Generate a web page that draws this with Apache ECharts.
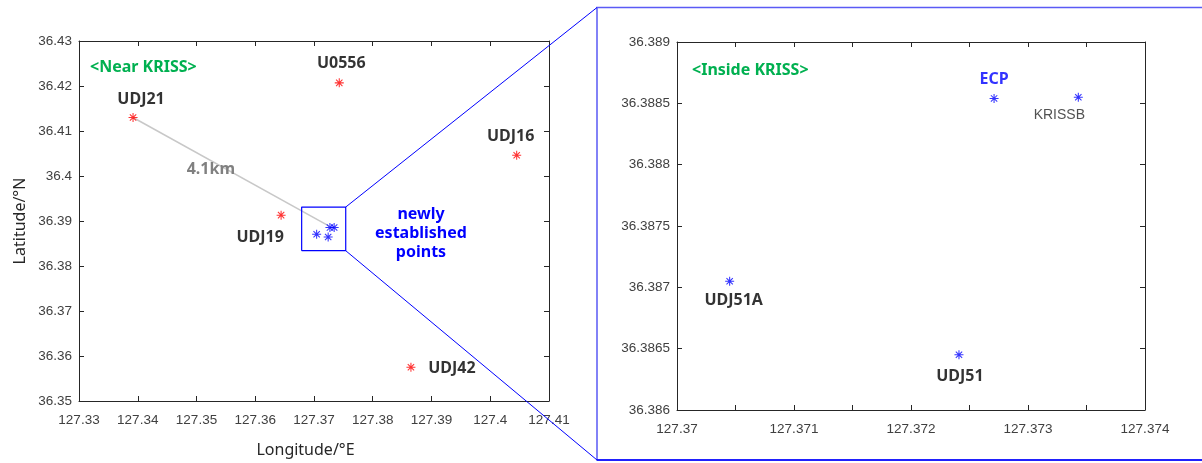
<!DOCTYPE html>
<html>
<head>
<meta charset="utf-8">
<script src="https://cdn.jsdelivr.net/npm/echarts@6/dist/echarts.min.js"></script>
<style>
html,body{margin:0;padding:0;background:#fff;}
#c{width:1202px;height:463px;}
</style>
</head>
<body>
<div id="c"></div>
<script>
// ---------- DATA ----------
var nearNames = ['UDJ21', 'U0556', 'UDJ16', 'UDJ19', 'UDJ42'];
var nearLon   = [127.3392, 127.3743, 127.4045, 127.3644, 127.3865];
var nearLat   = [36.4130, 36.4207, 36.4046, 36.3913, 36.3575];

var insideNames = ['ECP', 'KRISSB', 'UDJ51A', 'UDJ51'];
var insideLon   = [127.37271, 127.37343, 127.37045, 127.37241];
var insideLat   = [36.38854, 36.38855, 36.38705, 36.38645];

// distance line UDJ21 -> ECP
var distLineLon = [127.3392, 127.3725];
var distLineLat = [36.4130, 36.3889];
var distLabel = '4.1km';

// zoom box on left map
var boxLon = [127.3679, 127.3754];
var boxLat = [36.3834, 36.3931];

// axes ranges / ticks
var leftX  = {min: 127.33, max: 127.41, step: 0.01};
var leftY  = {min: 36.35,  max: 36.43,  step: 0.01};
var rightX = {min: 127.370, max: 127.374, step: 0.0005, labelStep: 0.001};
var rightY = {min: 36.386, max: 36.389, step: 0.0005};

var xName = 'Longitude/°E';
var yName = 'Latitude/°N';
var titleLeft = '<Near KRISS>';
var titleRight = '<Inside KRISS>';
var newPointsText = 'newly\nestablished\npoints';

// ---------- STYLE ----------
var AX = '#262626';
var TICKFONT = '"Liberation Sans", Arial, sans-serif';
var LBLFONT = '"Noto Sans", "Open Sans", sans-serif';
var STAR = 'path://M0 5.3H12V6.7H0Z M5.3 0H6.7V12H5.3Z M2.255 1.265L10.735 9.745L9.745 10.735L1.265 2.255Z M10.735 2.255L2.255 10.735L1.265 9.745L9.745 1.265Z';

var nearOffsets = {UDJ21:[8,-18], U0556:[2,-19], UDJ16:[-6,-19], UDJ19:[-21,22], UDJ42:[41,1]};
var insideOffsets = {ECP:[0,-19], KRISSB:[-19,18], UDJ51A:[4,19], UDJ51:[1,22]};

var grids = [
  {left: 79, top: 41, width: 470, height: 368},
  {left: 677, top: 42, width: 468, height: 368}
];

function fmt(d){ return function(v){ return String(+(+v).toFixed(d)); }; }

function mkAxis(r, gi, pos, showLabel, fmtFn){
  return {
    type: 'value', gridIndex: gi, position: pos,
    min: r.min, max: r.max, interval: r.step,
    splitLine: {show: false},
    axisLine: {show: true, onZero: false, lineStyle: {color: AX, width: 1}},
    axisTick: {show: true, inside: true, length: 5, lineStyle: {color: AX}},
    axisLabel: {show: showLabel, color: '#404040', fontSize: 13.5, fontFamily: TICKFONT, formatter: fmtFn, margin: 8, showMinLabel: true, showMaxLabel: true}
  };
}

var xAxes = [
  mkAxis(leftX, 0, 'bottom', true, fmt(2)),
  mkAxis(rightX, 1, 'bottom', true, function(v){
    var k = Math.round((v - rightX.min) / rightX.step);
    return (k % Math.round(rightX.labelStep / rightX.step) === 0) ? String(+(+v).toFixed(3)) : '';
  }),
  mkAxis(leftX, 0, 'top', false),
  mkAxis(rightX, 1, 'top', false)
];
xAxes[0].axisLabel.margin = 12;
xAxes[1].axisLabel.margin = 12;
xAxes[0].name = xName;
xAxes[0].nameLocation = 'middle';
xAxes[0].nameGap = 41;
xAxes[0].nameTextStyle = {color: AX, fontSize: 16, fontFamily: LBLFONT, padding: [0, 17, 0, 0]};

var yAxes = [
  mkAxis(leftY, 0, 'left', true, fmt(2)),
  mkAxis(rightY, 1, 'left', true, fmt(4)),
  mkAxis(leftY, 0, 'right', false),
  mkAxis(rightY, 1, 'right', false)
];
yAxes[0].axisLabel.margin = 7;
yAxes[1].axisLabel.margin = 7;
yAxes[0].name = yName;
yAxes[0].nameLocation = 'middle';
yAxes[0].nameGap = 51;
yAxes[0].nameTextStyle = {color: AX, fontSize: 16, fontFamily: LBLFONT};

function ptLabel(off, color, bold){
  return {show: true, position: 'inside', offset: off, formatter: '{b}',
          color: color, fontSize: 16, fontWeight: bold ? 'bold' : 'normal', fontFamily: LBLFONT};
}

var nearData = nearNames.map(function(n, i){
  return {name: n, value: [nearLon[i], nearLat[i]], label: ptLabel(nearOffsets[n], '#000', true)};
});
var insideDataLeft = insideNames.map(function(n, i){ return {name: n, value: [insideLon[i], insideLat[i]]}; });
var insideDataRight = insideNames.map(function(n, i){
  var lab;
  if (n === 'ECP') lab = ptLabel(insideOffsets[n], '#0000ff', true);
  else if (n === 'KRISSB') { lab = ptLabel(insideOffsets[n], '#262626', false); lab.fontFamily = TICKFONT; lab.fontSize = 14; }
  else lab = ptLabel(insideOffsets[n], '#000', true);
  return {name: n, value: [insideLon[i], insideLat[i]], label: lab};
});

var boxData = [
  [boxLon[0], boxLat[0]], [boxLon[1], boxLat[0]], [boxLon[1], boxLat[1]], [boxLon[0], boxLat[1]], [boxLon[0], boxLat[0]]
];

var chart = echarts.init(document.getElementById('c'), null, {renderer: 'canvas'});
chart.setOption({
  animation: false,
  backgroundColor: '#fff',
  grid: grids,
  xAxis: xAxes,
  yAxis: yAxes,
  series: [
    {type: 'line', xAxisIndex: 0, yAxisIndex: 0, symbol: 'none', silent: true, z: 1,
     data: distLineLon.map(function(x, i){ return [x, distLineLat[i]]; }),
     lineStyle: {color: '#c8c8c8', width: 1.5}},
    {type: 'line', xAxisIndex: 0, yAxisIndex: 0, symbol: 'none', silent: true, z: 2,
     data: boxData, lineStyle: {color: '#0000ff', width: 1.2}},
    {type: 'scatter', xAxisIndex: 0, yAxisIndex: 0, symbol: STAR, symbolSize: 9, z: 3,
     itemStyle: {color: '#ff0000'}, data: nearData},
    {type: 'scatter', xAxisIndex: 0, yAxisIndex: 0, symbol: STAR, symbolSize: 9, z: 3,
     itemStyle: {color: '#0000ff'}, data: insideDataLeft},
    {type: 'scatter', xAxisIndex: 1, yAxisIndex: 1, symbol: STAR, symbolSize: 9, z: 3,
     itemStyle: {color: '#0000ff'}, data: insideDataRight}
  ]
});

// ---------- decorations (zoom frame and connectors) ----------
var tr = chart.convertToPixel({xAxisIndex: 0, yAxisIndex: 0}, [boxLon[1], boxLat[1]]);
var br = chart.convertToPixel({xAxisIndex: 0, yAxisIndex: 0}, [boxLon[1], boxLat[0]]);
var distMid = chart.convertToPixel({xAxisIndex: 0, yAxisIndex: 0},
  [(distLineLon[0] + distLineLon[1]) / 2, (distLineLat[0] + distLineLat[1]) / 2]);
var frame = {x0: 597, y0: 7.5, x1: 1204, y1: 460};

chart.setOption({
  graphic: [
    {type: 'rect', silent: true, z: 10, shape: {x: frame.x0, y: frame.y0, width: frame.x1 - frame.x0, height: frame.y1 - frame.y0},
     style: {fill: 'none', stroke: '#5a5af5', lineWidth: 1.5}},
    {type: 'line', silent: true, z: 11, shape: {x1: frame.x0, y1: frame.y1, x2: frame.x1, y2: frame.y1},
     style: {stroke: '#0000ff', lineWidth: 1.5}},
    {type: 'line', silent: true, z: 11, shape: {x1: tr[0], y1: tr[1], x2: frame.x0, y2: frame.y0},
     style: {stroke: '#0000ff', lineWidth: 1}},
    {type: 'line', silent: true, z: 11, shape: {x1: br[0], y1: br[1], x2: frame.x0, y2: frame.y1},
     style: {stroke: '#0000ff', lineWidth: 1}},
    {type: 'text', silent: true, z: 12, style: {text: titleLeft, x: 90, y: 67, fill: '#00b050',
     font: 'bold 16px "Noto Sans"', align: 'left', verticalAlign: 'middle'}},
    {type: 'text', silent: true, z: 12, style: {text: titleRight, x: 692, y: 70, fill: '#00b050',
     font: 'bold 16px "Noto Sans"', align: 'left', verticalAlign: 'middle'}},
    {type: 'text', silent: true, z: 12, style: {text: distLabel, x: distMid[0] - 20, y: distMid[1] - 2, fill: '#808080',
     font: 'bold 16px "Noto Sans"', align: 'center', verticalAlign: 'middle'}},
    {type: 'text', silent: true, z: 12, style: {text: newPointsText, x: 421, y: 233, fill: '#0000ff',
     font: 'bold 16px "Noto Sans"', align: 'center', verticalAlign: 'middle', lineHeight: 19}}
  ]
});
</script>
</body>
</html>
